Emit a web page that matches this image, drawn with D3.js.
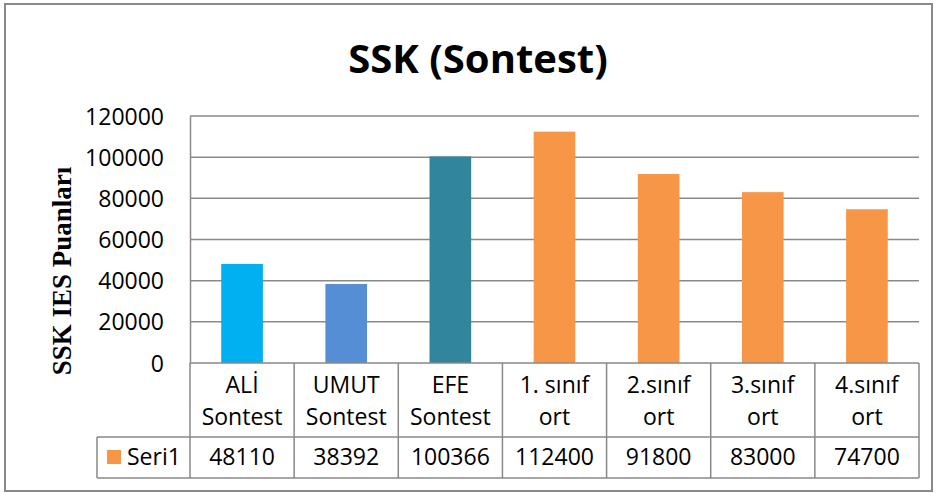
<!DOCTYPE html>
<html><head><meta charset="utf-8">
<script src="https://cdn.jsdelivr.net/npm/d3@7"></script>
<style>html,body{margin:0;padding:0;background:#fff;}svg{display:block;}</style>
</head><body>
<svg id="c" width="936" height="493"></svg>
<script>
const title = "SSK (Sontest)";
const yTitle = "SSK IES Puanları";
const seriesName = "Seri1";
const categoryLines = [["ALİ","Sontest"],["UMUT","Sontest"],["EFE","Sontest"],["1. sınıf","ort"],["2.sınıf","ort"],["3.sınıf","ort"],["4.sınıf","ort"]];
const values = [48110, 38392, 100366, 112400, 91800, 83000, 74700];
const barColors = ["#00B0F0","#558ED5","#31859C","#F79646","#F79646","#F79646","#F79646"];
const legendColor = "#F79646";
const yTicks = [0, 20000, 40000, 60000, 80000, 100000, 120000];

const svg = d3.select("#c");
const font = "'Open Sans', sans-serif";
const gridCol = "#898989";
const L = 190, R = 919, T = 116, B = 363;
const rowMid = 437, rowBot = 478, legLeft = 97;

// outer border
svg.append("rect").attr("x",5).attr("y",4).attr("width",927).attr("height",487)
  .attr("fill","#fff").attr("stroke",gridCol).attr("stroke-width",2);

const cats = categoryLines.map(d => d.join(" "));
const x = d3.scaleBand().domain(cats).range([L, R]).paddingInner(0).paddingOuter(0);
const y = d3.scaleLinear().domain([0, 120000]).range([B, T]);
const step = x.step();

// gridlines
svg.append("g").selectAll("line").data(yTicks.filter(t => t > 0)).join("line")
  .attr("x1", L).attr("x2", R).attr("y1", d => y(d)).attr("y2", d => y(d))
  .attr("stroke", gridCol).attr("stroke-width", 1.5);

// y axis
const yAxis = svg.append("g").attr("transform", `translate(${L},0)`)
  .call(d3.axisLeft(y).tickValues(yTicks).tickSize(0).tickPadding(26).tickFormat(d3.format("d")));
yAxis.select(".domain").attr("stroke", gridCol).attr("stroke-width", 1.5);
yAxis.selectAll("text").attr("font-family", font).attr("font-size", 23).attr("fill", "#000").attr("dy","0.35em");

// bars
svg.append("g").selectAll("rect").data(values).join("rect")
  .attr("x", (d,i) => x(cats[i]) + step*0.3)
  .attr("width", step*0.4)
  .attr("y", d => y(d))
  .attr("height", d => B - y(d))
  .attr("fill", (d,i) => barColors[i]);

// data table
const tg = svg.append("g").attr("stroke", gridCol).attr("stroke-width", 1.5).attr("fill","none");
tg.append("line").attr("x1", L).attr("x2", R).attr("y1", B).attr("y2", B);
tg.append("line").attr("x1", legLeft).attr("x2", R).attr("y1", rowMid).attr("y2", rowMid);
tg.append("line").attr("x1", legLeft).attr("x2", R).attr("y1", rowBot).attr("y2", rowBot);
tg.append("line").attr("x1", legLeft).attr("x2", legLeft).attr("y1", rowMid).attr("y2", rowBot);
tg.selectAll("line.v").data(cats.concat(["end"])).join("line").attr("class","v")
  .attr("x1", (d,i) => L + i*step).attr("x2", (d,i) => L + i*step)
  .attr("y1", B).attr("y2", rowBot);

// category labels
const cg = svg.append("g").attr("font-family", font).attr("font-size", 23).attr("text-anchor","middle").attr("fill","#000");
categoryLines.forEach((lines, i) => {
  lines.forEach((t, j) => {
    cg.append("text").attr("x", x(cats[i]) + step/2).attr("y", 385 + j*32).attr("dy","0.35em").text(t);
  });
  cg.append("text").attr("x", x(cats[i]) + step/2).attr("y", 457).attr("dy","0.35em").text(values[i]);
});

// legend cell
svg.append("rect").attr("x",107).attr("y",450).attr("width",14).attr("height",14).attr("fill",legendColor);
svg.append("text").attr("x",127).attr("y",457).attr("dy","0.35em").attr("font-family",font).attr("font-size",23).text(seriesName);

// title
svg.append("text").attr("x", 478).attr("y", 59).attr("dy","0.35em").attr("text-anchor","middle")
  .attr("font-family", font).attr("font-weight","bold").attr("font-size", 40).text(title);

// y title
svg.append("text").attr("transform","translate(62,271) rotate(-90)").attr("dy","0.35em")
  .attr("text-anchor","middle").attr("font-family","'Liberation Serif', serif").attr("font-weight","bold")
  .attr("font-size", 27).text(yTitle);
</script>
</body></html>
